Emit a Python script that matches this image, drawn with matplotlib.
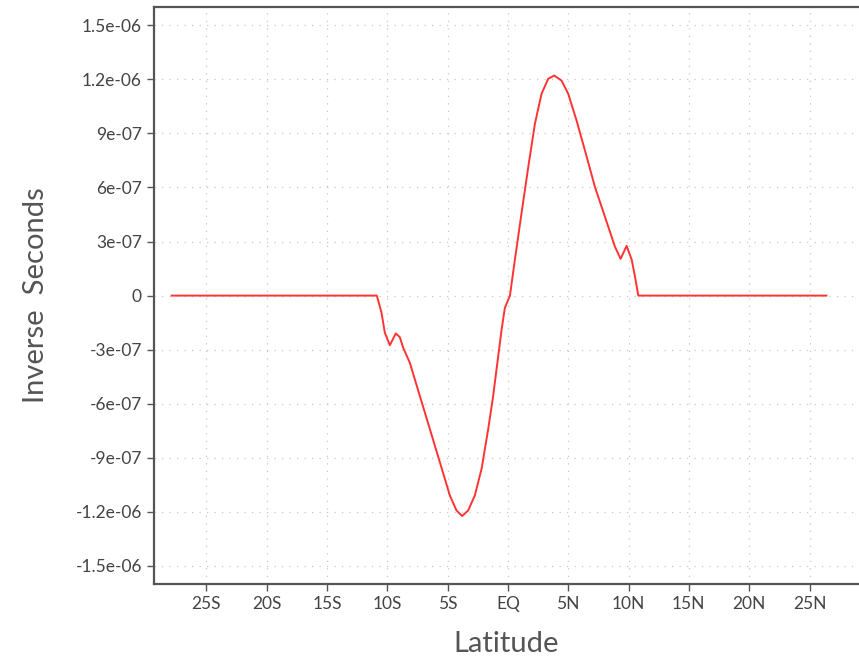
import matplotlib
matplotlib.use("Agg")
import matplotlib.pyplot as plt

# values (latitude in degrees, value in s^-1)
lat = [-27.86, -10.86, -10.47, -10.2, -9.78, -9.29, -8.96, -8.68, -8.13, -7.30,
       -6.47, -5.64, -4.81, -4.26, -3.79, -3.29, -2.74, -2.18, -1.63, -1.22,
       -0.80, -0.52, -0.25, 0.17, 0.58, 1.13, 1.69, 2.24, 2.79, 3.34,
       3.84, 4.45, 5.0, 5.69, 6.38, 7.21, 8.04, 8.87, 9.34, 9.84,
       10.26, 10.53, 10.81, 26.4]
val = [0, 0, -9.6e-8, -2.06e-7, -2.75e-7, -2.1e-7, -2.3e-7, -2.89e-7, -3.72e-7, -5.56e-7,
       -7.40e-7, -9.24e-7, -1.109e-6, -1.192e-6, -1.223e-6, -1.192e-6, -1.109e-6, -9.61e-7, -7.40e-7, -5.56e-7,
       -3.35e-7, -1.88e-7, -6.8e-8, 0, 1.99e-7, 4.57e-7, 7.14e-7, 9.54e-7, 1.120e-6, 1.203e-6,
       1.221e-6, 1.193e-6, 1.120e-6, 9.72e-7, 8.07e-7, 6.04e-7, 4.38e-7, 2.72e-7, 2.04e-7, 2.76e-7,
       1.99e-7, 1.07e-7, 0, 0]

xticks = [-25, -20, -15, -10, -5, 0, 5, 10, 15, 20, 25]
xlabels = ['25S', '20S', '15S', '10S', '5S', 'EQ', '5N', '10N', '15N', '20N', '25N']
yticks = [-1.5e-6, -1.2e-6, -9e-7, -6e-7, -3e-7, 0, 3e-7, 6e-7, 9e-7, 1.2e-6, 1.5e-6]
ylabels = ['-1.5e-06', '-1.2e-06', '-9e-07', '-6e-07', '-3e-07', '0',
           '3e-07', '6e-07', '9e-07', '1.2e-06', '1.5e-06']

font = ['Lato', 'DejaVu Sans']

fig = plt.figure(figsize=(8.59, 6.58), dpi=100)
ax = fig.add_axes([0.179, 0.1125, 0.821, 0.8765])

ax.plot(lat, val, color='#ff3333', linewidth=1.4)

ax.set_xlim(-29.35, 29.1)
ax.set_ylim(-1.6e-6, 1.6e-6)
ax.set_xticks(xticks)
ax.set_xticklabels(xlabels, family=font)
ax.set_yticks(yticks)
ax.set_yticklabels(ylabels, family=font)

ax.grid(True, color='#c8c8c8', linestyle=(0, (1, 5)), linewidth=0.9)
ax.tick_params(direction='out', length=5, width=1, color='#555555',
               labelsize=12.5, labelcolor='#444444')

for side in ['left', 'top', 'bottom']:
    ax.spines[side].set_color('#555555')
    ax.spines[side].set_linewidth(1.6)
ax.spines['right'].set_visible(False)

ax.set_xlabel('Latitude', fontsize=21, color='#555555', labelpad=14, family=font)
ax.set_ylabel('Inverse  Seconds', fontsize=21, color='#555555', labelpad=19, family=font)

fig.savefig('out.png', dpi=100)
